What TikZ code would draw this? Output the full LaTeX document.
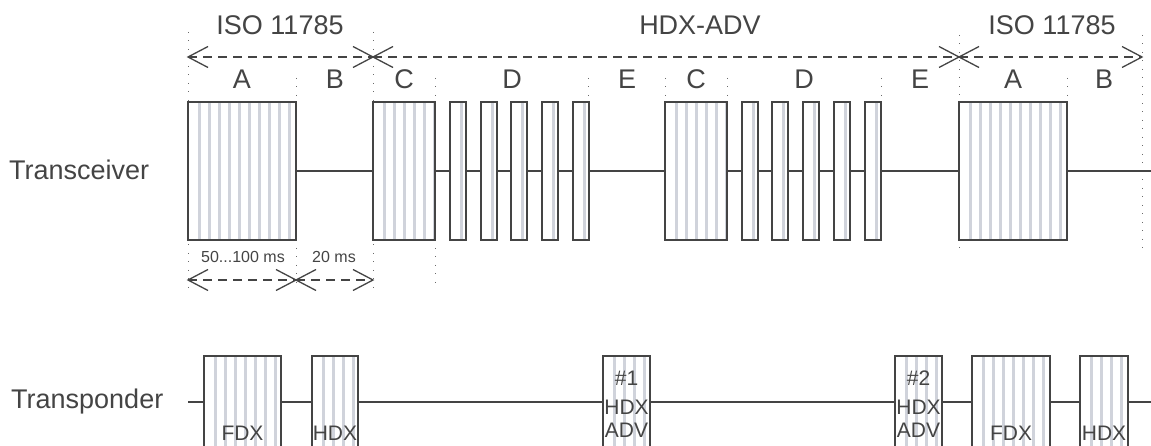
\documentclass[tikz,border=0pt]{standalone}
\usepackage{fontspec}
\setmainfont{Liberation Sans}
\definecolor{ink}{HTML}{444444}
\definecolor{stripe}{HTML}{D0D3DB}
\definecolor{dotc}{HTML}{6A6A6A}
\tikzset{
  sig/.style={draw=ink, line width=1.6pt},
  boxline/.style={draw=ink, line width=1.6pt},
  dim/.style={draw=ink, line width=1.3pt, dash pattern=on 9pt off 6pt},
  chev/.style={draw=ink, line width=1.3pt},
  guide/.style={draw=dotc, line width=1pt, dash pattern=on 1pt off 7.5pt},
  big/.style={text=ink, font=\fontsize{27}{31}\selectfont, inner sep=0pt, anchor=base},
  small/.style={text=ink, font=\fontsize{16}{19}\selectfont, inner sep=0pt, anchor=base},
  intxt/.style={text=ink, font=\fontsize{21}{24}\selectfont, inner sep=0pt, anchor=base},
}
\newcommand{\pulsebox}[5]{%
  \fill[white] (#2,#3) rectangle (#4,#5);
  \begin{scope}
    \clip (#2,#3) rectangle (#4,#5);
    \foreach \k in {0,...,11} {\fill[stripe] ({#2+9.5+10*\k},#3) rectangle ({#2+12.5+10*\k},#5);}
  \end{scope}
  \draw[boxline] (#2,#3) rectangle (#4,#5);
  \coordinate (#1) at ({(#2+#4)/2},{(#3+#5)/2});
}
\newcommand{\tipL}[1]{\draw[chev] ([shift={(20,-10.5)}]#1) -- (#1) -- ([shift={(20,10.5)}]#1);}
\newcommand{\tipR}[1]{\draw[chev] ([shift={(-20,-10.5)}]#1) -- (#1) -- ([shift={(-20,10.5)}]#1);}
\begin{document}
\begin{tikzpicture}[x=1pt,y=-1pt]
\useasboundingbox (0,0) rectangle (1151,446);

% guides
\foreach \gx/\ga/\gb in {188/32/288, 296/78/288, 373/32/288, 435/78/288,
  588/78/248, 665/78/248, 727/78/248, 881/78/248, 959/35/248, 1067/78/248, 1142/35/248}
  {\draw[guide] (\gx,\ga) -- (\gx,\gb);}

% top dimension arrows
\coordinate (t0) at (188,57);
\coordinate (t1) at (373,57);
\coordinate (t2) at (959,57);
\coordinate (t3) at (1142,57);
\draw[dim] (t0) -- (t1);
\draw[dim] (t1) -- (t2);
\draw[dim] (t2) -- (t3);
\tipL{t0} \tipR{t1} \tipL{t1} \tipR{t2} \tipL{t2} \tipR{t3}

% bottom dimension arrows
\coordinate (b0) at (188,280);
\coordinate (b1) at (296,280);
\coordinate (b2) at (373,280);
\draw[dim] (b0) -- (b1);
\draw[dim] (b1) -- (b2);
\tipL{b0} \tipR{b1} \tipL{b1} \tipR{b2}

% top labels
\node[big] (iso1) at (280,35) {ISO 11785};
\node[big] (hdxadv) at (700,35) {HDX-ADV};
\node[big] (iso2) at (1052,35) {ISO 11785};

\foreach \lx/\lt/\ln in {242/A/la1, 335/B/lb1, 404/C/lc1, 512/D/ld1, 627/E/le1,
   696/C/lc2, 804/D/ld2, 920/E/le2, 1013/A/la2, 1104/B/lb2}
  {\node[big] (\ln) at (\lx,89) {\lt};}

% row labels
\node[big, anchor=base west] (trx) at (9,180) {Transceiver};
\node[big, anchor=base west] (trp) at (11,408) {Transponder};

% transceiver signal
\coordinate (s0) at (188,171);
\coordinate (s1) at (1151,171);
\draw[sig] (s0) -- (s1);
\pulsebox{A1}{188}{102}{296}{240}
\pulsebox{C1}{373}{102}{435}{240}
\foreach \px [count=\i] in {450,481,511,542,573}
  {\pulsebox{D1\i}{\px}{102}{\px+16}{240}}
\pulsebox{C2}{665}{102}{727}{240}
\foreach \px [count=\i] in {742,772,803,834,865}
  {\pulsebox{D2\i}{\px}{102}{\px+16}{240}}
\pulsebox{A2}{959}{102}{1067}{240}

\node[small] (d1) at (243,263) {50...100 ms};
\node[small] (d2) at (334,263) {20 ms};

% transponder signal
\coordinate (r0) at (188,402);
\coordinate (r1) at (1151,402);
\draw[sig] (r0) -- (r1);
\pulsebox{F1}{204}{356}{281}{452}
\pulsebox{H1}{312}{356}{358}{452}
\pulsebox{X1}{603}{356}{650}{452}
\pulsebox{X2}{895}{356}{942}{452}
\pulsebox{F2}{972}{356}{1050}{452}
\pulsebox{H2}{1080}{356}{1128}{452}

\node[intxt] (tf1) at (242.5,440) {FDX};
\node[intxt] (th1) at (335,440) {HDX};
\node[intxt] (tf2) at (1011,440) {FDX};
\node[intxt] (th2) at (1104,440) {HDX};
\node[intxt] (n1) at (626.5,385) {\#1};
\node[intxt] (h1) at (626.5,414) {HDX};
\node[intxt] (a1) at (626.5,437) {ADV};
\node[intxt] (n2) at (918.5,385) {\#2};
\node[intxt] (h2) at (918.5,414) {HDX};
\node[intxt] (a2) at (918.5,437) {ADV};
\end{tikzpicture}
\end{document}
